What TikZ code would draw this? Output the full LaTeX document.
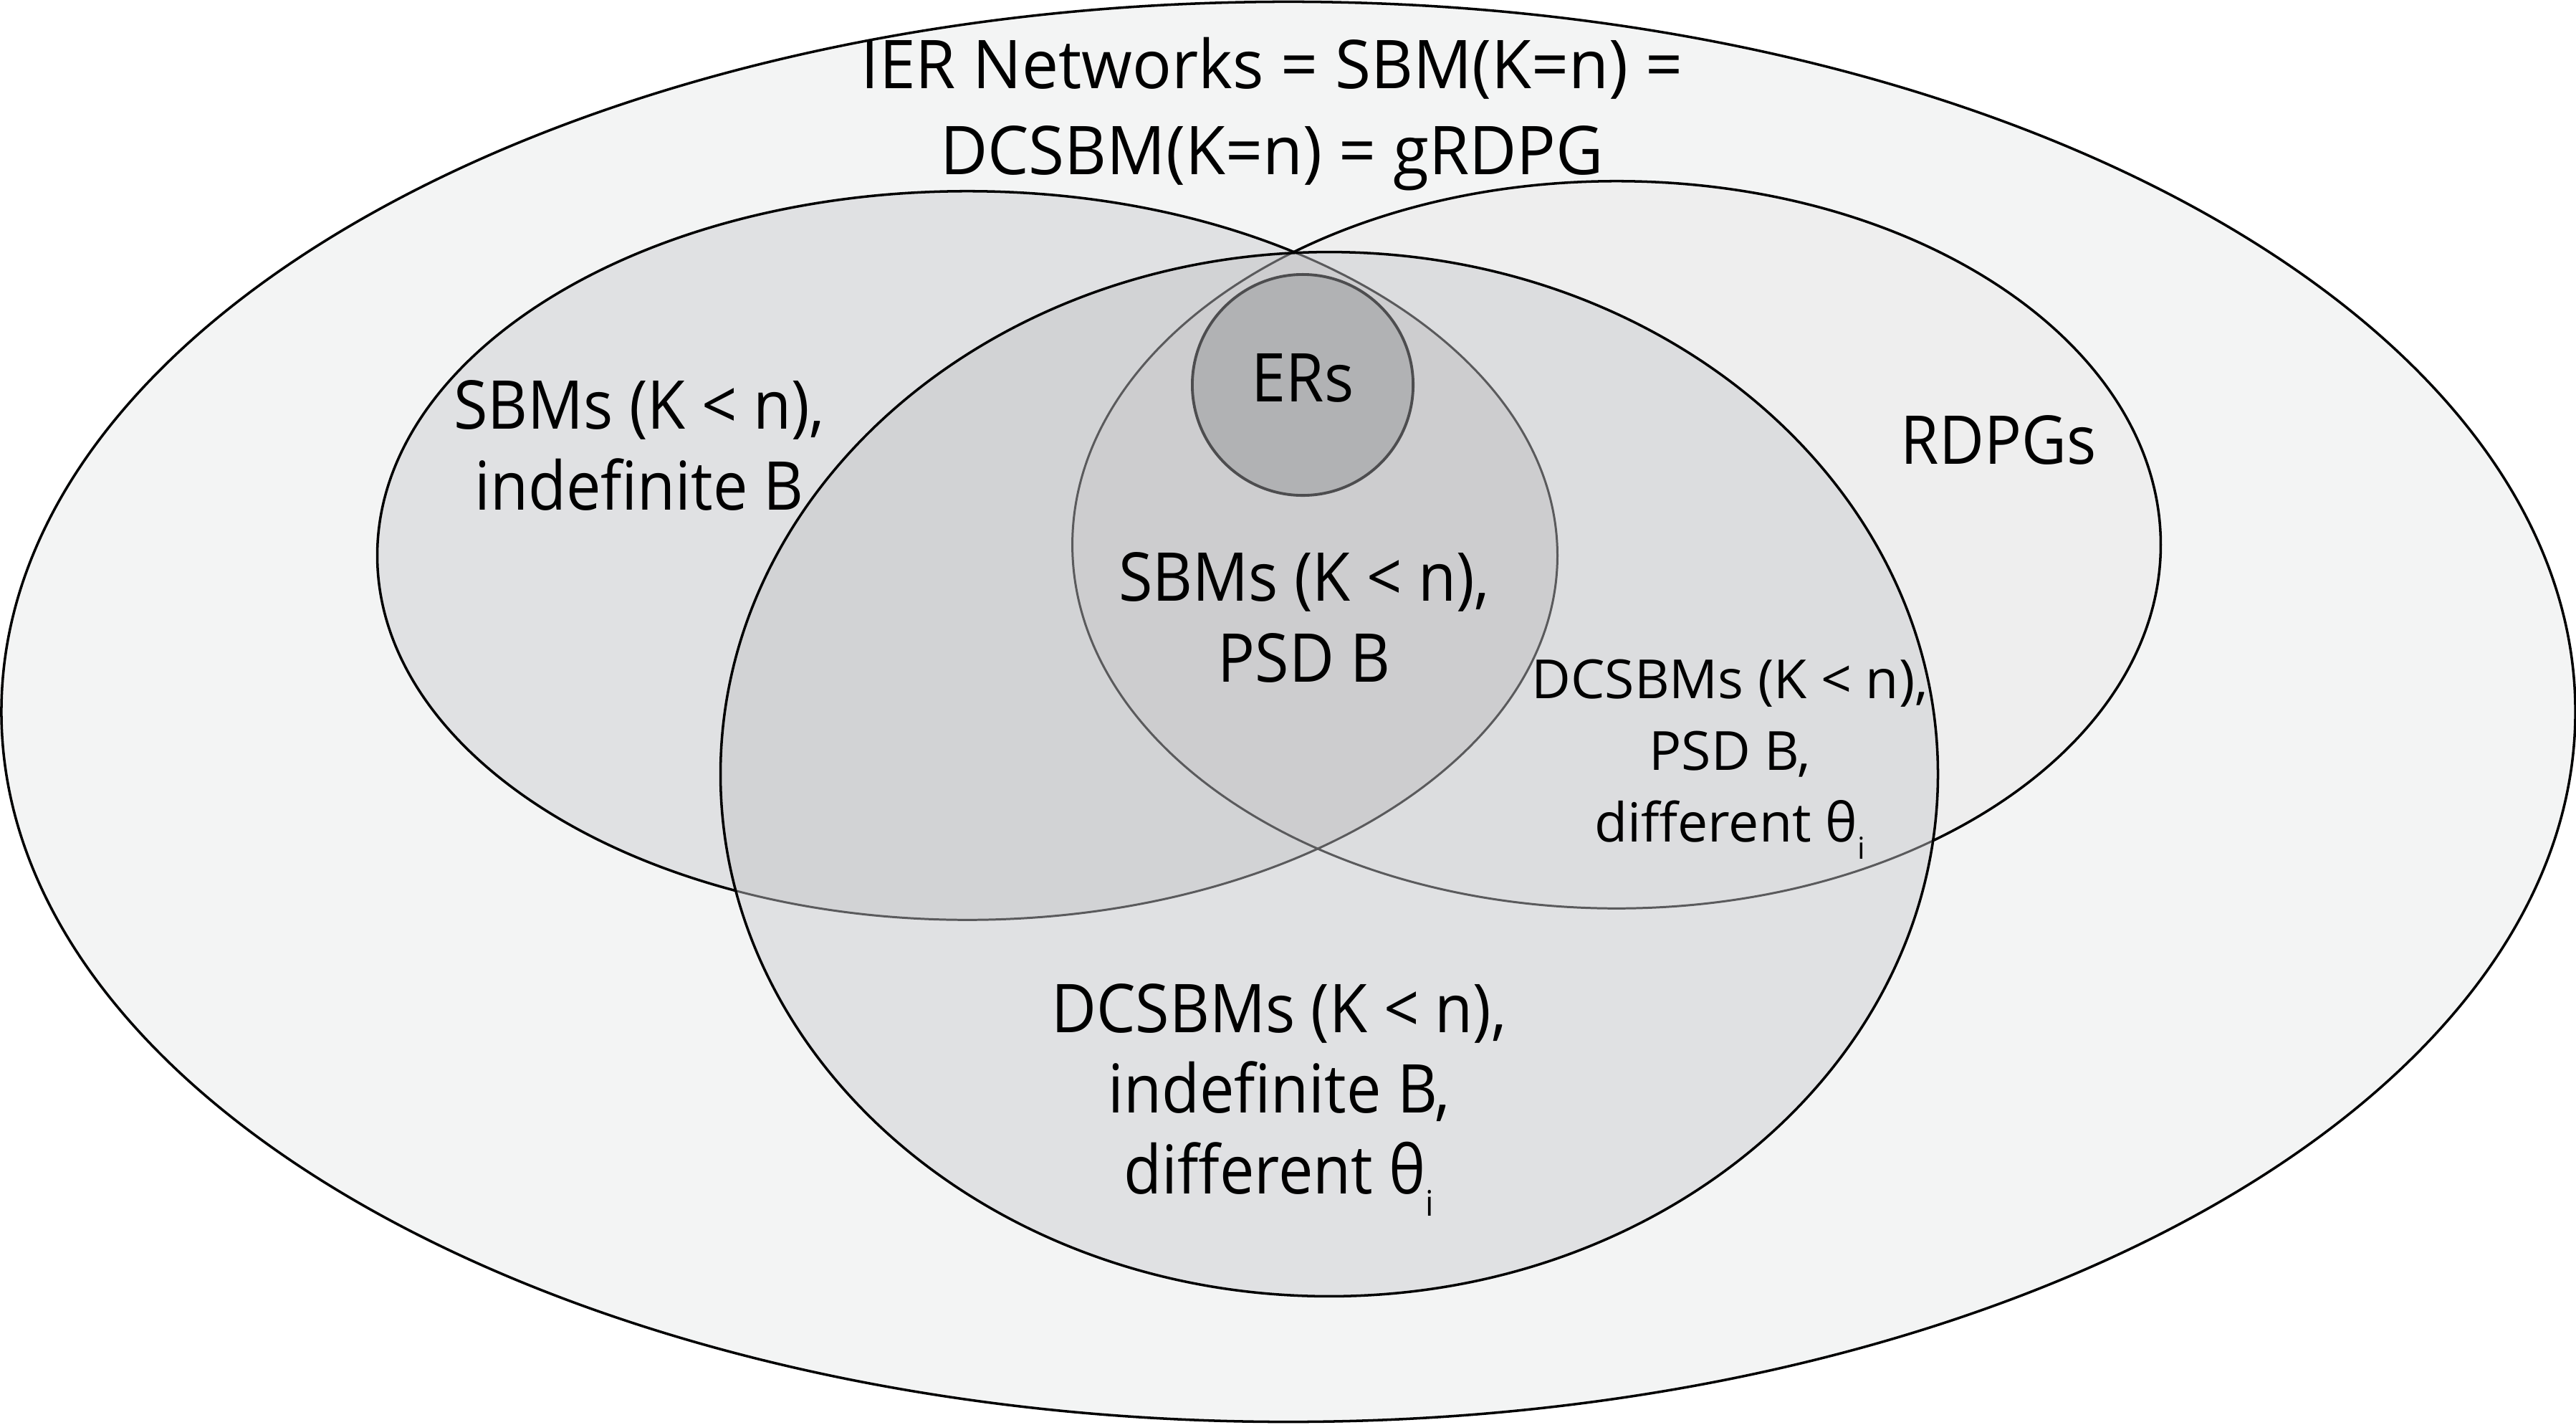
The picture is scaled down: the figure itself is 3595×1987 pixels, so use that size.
\documentclass[tikz,border=0pt]{standalone}
\usepackage{fontspec}
\setmainfont{Open Sans}[FakeStretch=0.92]
\newfontfamily\titlefont{Open Sans}[FakeStretch=0.97]
\newfontfamily\smallfont{Open Sans}
\definecolor{cOuter}{HTML}{F3F4F4}
\definecolor{cLeft}{HTML}{E0E1E3}
\definecolor{cRdpg}{HTML}{EEEEEE}
\definecolor{cBig}{HTML}{E0E1E3}
\definecolor{cLeftBig}{HTML}{D2D3D5}
\definecolor{cRdpgBig}{HTML}{DCDDDF}
\definecolor{cLens}{HTML}{CDCDCF}
\definecolor{cER}{HTML}{B1B2B4}
\definecolor{cGrayLine}{HTML}{5A5A5C}
\definecolor{cERLine}{HTML}{4D4D4F}
\newcommand{\subi}{\raisebox{-0.33em}{\fontsize{14}{14}\selectfont i}}
\newcommand{\subismall}{\raisebox{-0.33em}{\fontsize{12}{12}\selectfont i}}
\def\outerE{(1798,993) ellipse [x radius=17.95cm, y radius=9.90cm]}
\def\leftE{(1350,775) ellipse [x radius=8.23cm, y radius=5.08cm]}
\def\rdpgE{(2256,760) ellipse [x radius=7.59cm, y radius=5.07cm]}
\def\bigE{(1855,1080) ellipse [x radius=8.49cm, y radius=7.28cm]}
\def\erE{(1818,537) circle [radius=1.54cm]}
\tikzset{
  blackline/.style={draw=black, line width=1pt},
  grayline/.style={draw=cGrayLine, line width=0.85pt},
  biglabel/.style={font=\fontsize{26.7}{31.9}\selectfont, align=center, inner sep=0pt, anchor=base},
  smalllabel/.style={font=\smallfont\fontsize{21.4}{28.4}\selectfont, align=center, inner sep=0pt, anchor=base},
  titlelabel/.style={font=\titlefont\fontsize{26.7}{34.1}\selectfont, align=center, inner sep=0pt, anchor=base}
}
\begin{document}
\begin{tikzpicture}[x=0.01cm, y=-0.01cm]
\useasboundingbox (0,0) rectangle (3595,1987);
\fill[white] (0,0) rectangle (3595,1987);
% outer
\fill[cOuter] \outerE;
\draw[blackline] \outerE;
% left and rdpg
\fill[cLeft] \leftE;
\fill[cRdpg] \rdpgE;
\draw[blackline] \leftE;
\draw[blackline] \rdpgE;
% big ellipse regions
\fill[cBig] \bigE;
\begin{scope}
  \clip \leftE;
  \fill[cLeftBig] \bigE;
\end{scope}
\begin{scope}
  \clip \rdpgE;
  \fill[cRdpgBig] \bigE;
\end{scope}
\begin{scope}
  \clip \leftE;
  \clip \rdpgE;
  \fill[cLens] \bigE;
\end{scope}
\begin{scope}
  \clip \bigE;
  \draw[grayline] \leftE;
  \draw[grayline] \rdpgE;
\end{scope}
\draw[blackline] \bigE;
% ERs
\filldraw[fill=cER, draw=cERLine, line width=1.1pt] \erE;
% labels
\node[titlelabel] (title) at (1775,243) {IER Networks = SBM(K=n) =\\DCSBM(K=n) = gRDPG};
\node[biglabel] (ers) at (1818,560) {ERs};
\node[biglabel] (sbmind) at (892,711) {SBMs (K < n),\\indefinite B};
\node[biglabel] (sbmpsd) at (1820,951) {SBMs (K < n),\\PSD B};
\node[biglabel] (rdpgs) at (2789,647) {RDPGs};
\node[smalllabel] (dcpsd) at (2414,1174) {DCSBMs (K < n),\\PSD B,\\different θ\subismall};
\node[biglabel] (dcind) at (1785,1665) {DCSBMs (K < n),\\indefinite B,\\different θ\subi};
\end{tikzpicture}
\end{document}
